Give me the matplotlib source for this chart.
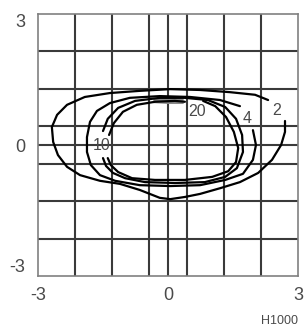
"""Isoline diagram (H1000) redrawn with matplotlib."""

import matplotlib

matplotlib.use("Agg")
import matplotlib.pyplot as plt
import numpy as np

plt.rcParams["font.family"] = ["Liberation Sans", "DejaVu Sans"]

# --- isoline data (data units) ---------------------------------------------
iso2_x = [2.31, 2.01, 1.43, 0.74, 0.05, -0.65, -1.34, -1.92, -2.33, -2.56,
          -2.68, -2.65, -2.54, -2.33, -2.03, -1.57, -1.11, -0.65, -0.19, 0.05,
          0.39, 0.74, 1.20, 1.66, 2.08, 2.40, 2.61, 2.70, 2.70]
iso2_y = [1.03, 1.15, 1.21, 1.26, 1.28, 1.24, 1.19, 1.10, 0.92, 0.69,
          0.41, 0.07, -0.23, -0.50, -0.69, -0.82, -0.89, -1.03, -1.21, -1.24,
          -1.19, -1.12, -0.99, -0.85, -0.64, -0.34, 0.00, 0.30, 0.55]

iso4_x = [1.66, 1.20, 0.51, -0.19, -0.88, -1.34, -1.64, -1.80, -1.87, -1.87,
          -1.78, -1.57, -1.22, -0.65, 0.05, 0.74, 1.32, 1.73, 1.96, 2.03, 1.96]
iso4_y = [0.89, 1.03, 1.10, 1.12, 1.08, 0.96, 0.78, 0.53, 0.18, -0.16,
          -0.46, -0.69, -0.82, -0.92, -0.94, -0.92, -0.80, -0.66, -0.34, 0.00, 0.34]

iso10_x = [-1.50, -1.43, -1.27, -0.99, -0.53, 0.16, 0.85, 1.32, 1.59, 1.73,
           1.71, 1.57, 1.32, 0.92, 0.39, -0.19, -0.76, -1.15, -1.39, -1.50]
iso10_y = [-0.30, -0.48, -0.64, -0.76, -0.85, -0.87, -0.85, -0.73, -0.53, -0.16,
           0.23, 0.60, 0.87, 1.03, 1.08, 1.08, 1.01, 0.85, 0.60, 0.32]

iso20_right_x = [0.81, 1.09, 1.34, 1.52, 1.62, 1.57, 1.39, 1.02, 0.39, -0.30,
                 -0.83, -1.15, -1.32, -1.39]
iso20_right_y = [1.01, 0.89, 0.64, 0.30, -0.07, -0.39, -0.60, -0.73, -0.80, -0.80,
                 -0.76, -0.62, -0.46, -0.30]
iso20_left_x = [-1.36, -1.25, -1.04, -0.72, -0.30, 0.16, 0.39]
iso20_left_y = [0.23, 0.50, 0.76, 0.92, 0.99, 1.01, 0.99]

# grey peak band where the 10 and 20 lines run together
band_x = [-0.35, 0.0, 0.35]
band_lo = [0.97, 0.95, 0.95]
band_hi = [1.07, 1.10, 1.07]

levels = ["2", "4", "10", "20"]
label_x = [2.51, 1.82, -1.53, 0.66]
label_y = [0.80, 0.61, 0.00, 0.76]

tick_vals = [-3, 0, 3]
tick_text = ["-3", "0", "3"]
footer = "H1000"

# --- figure -----------------------------------------------------------------
fig = plt.figure(figsize=(3.07, 3.32), dpi=100)
ax = fig.add_axes([38 / 307, 1 - 276 / 332, 260 / 307, 262 / 332])
ax.set_xlim(-3, 3)
ax.set_ylim(-3, 3)

grid_color = "#3a3a3a"
for g in list(np.linspace(-3, 3, 8)[1:-1]) + [0.0]:
    ax.axvline(g, color=grid_color, lw=1.5, zorder=1)
    ax.axhline(g, color=grid_color, lw=1.5, zorder=1)

ax.fill_between(band_x, band_lo, band_hi, color="#8a8a8a", lw=0, zorder=2)

line_kw = dict(color="black", lw=1.6, solid_joinstyle="round",
               solid_capstyle="round", zorder=3)
ax.plot(iso2_x, iso2_y, **line_kw)
ax.plot(iso4_x, iso4_y, **line_kw)
ax.plot(iso10_x, iso10_y, **line_kw)
ax.plot(iso20_right_x, iso20_right_y, **line_kw)
ax.plot(iso20_left_x, iso20_left_y, **line_kw)

for txt, lx, ly in zip(levels, label_x, label_y):
    ax.text(lx, ly, txt, ha="center", va="center", fontsize=11.5,
            color="#4a4a4a", zorder=4)

for side in ax.spines.values():
    side.set_color("#808080")
    side.set_linewidth(1.2)

ax.set_xticks(tick_vals)
ax.set_xticklabels(tick_text)
ax.set_yticks(tick_vals)
ax.set_yticklabels(tick_text)
ax.tick_params(length=0, labelsize=13, labelcolor="#4a4a4a")
ax.tick_params(axis="x", pad=8)
ax.tick_params(axis="y", pad=9)
ylabels = ax.get_yticklabels()
ylabels[0].set_va("bottom")
ylabels[-1].set_va("top")

fig.text(279 / 307, 1 - 321 / 332, footer, ha="center", va="center",
         fontsize=9, color="#4a4a4a")

fig.savefig("out.png", dpi=100)
